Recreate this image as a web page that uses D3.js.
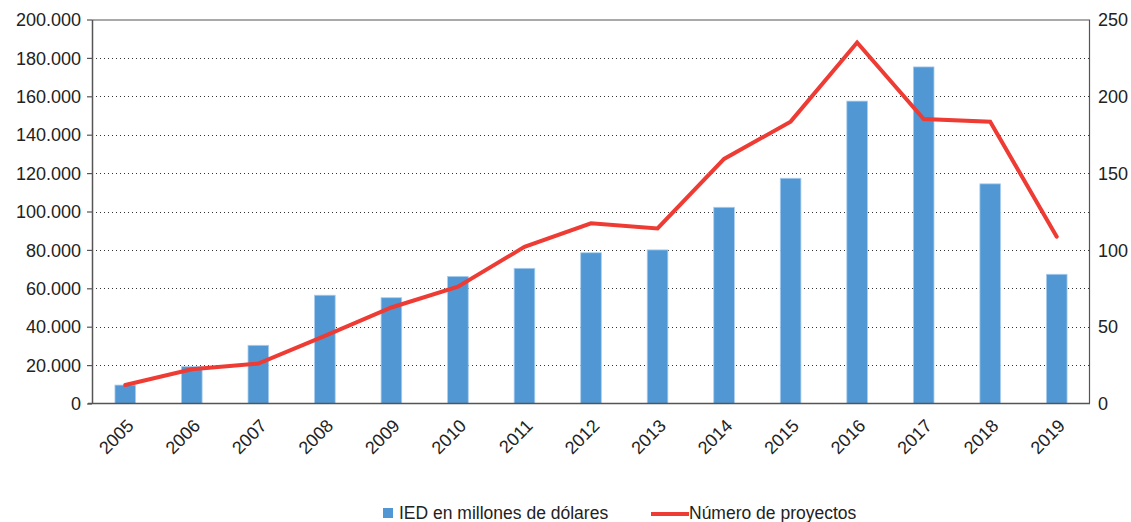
<!DOCTYPE html>
<html>
<head>
<meta charset="utf-8">
<script src="https://cdn.jsdelivr.net/npm/d3@7"></script>
<style>
  html, body { margin: 0; padding: 0; background: #fff; }
  svg { display: block; font-family: "Liberation Sans", Arial, sans-serif; }
</style>
</head>
<body>
<svg id="chart" width="1131" height="522"></svg>
<script>
// Inversión extranjera directa anunciada y número de proyectos, 2005-2019
const years = ["2005","2006","2007","2008","2009","2010","2011","2012","2013","2014","2015","2016","2017","2018","2019"];
const iedMillones = [9600, 19200, 30300, 56400, 55100, 66200, 70400, 78500, 80000, 102200, 117300, 157500, 175300, 114400, 67300];
const proyectos = [12, 22.3, 26, 44, 62.5, 76, 102, 117.3, 114, 159.2, 183.5, 235, 185.2, 183.5, 108.6];
const leftTicks = [0, 20000, 40000, 60000, 80000, 100000, 120000, 140000, 160000, 180000, 200000];
const rightTicks = [0, 50, 100, 150, 200, 250];
const legendLabels = ["IED en millones de dólares", "Número de proyectos"];

const svg = d3.select("#chart");
const m = { left: 92, right: 1090, top: 19.5, bottom: 403.5 };

const x = d3.scaleBand().domain(years).range([m.left, m.right]).paddingInner(0.69).paddingOuter(0.345);
const yL = d3.scaleLinear().domain([0, 200000]).range([m.bottom, m.top]);
const yR = d3.scaleLinear().domain([0, 250]).range([m.bottom, m.top]);

const fmt = v => v === 0 ? "0" : d3.format(",")(v).replace(/,/g, ".");

// dotted horizontal gridlines
svg.append("g").selectAll("line").data(leftTicks.filter(t => t > 0 && t < 200000)).join("line")
  .attr("x1", m.left).attr("x2", m.right)
  .attr("y1", d => Math.round(yL(d)) + 0.5).attr("y2", d => Math.round(yL(d)) + 0.5)
  .attr("stroke", "#333").attr("stroke-width", 1).attr("stroke-dasharray", "1,3");

// frame: top and right edges
svg.append("path")
  .attr("d", `M${m.left},${m.top + 0.5}H${m.right - 0.5}V${m.bottom}`)
  .attr("fill", "none").attr("stroke", "#555").attr("stroke-width", 1.2);

// bars
svg.append("g").selectAll("rect").data(years).join("rect")
  .attr("x", d => x(d))
  .attr("width", x.bandwidth())
  .attr("y", (d, i) => yL(iedMillones[i]))
  .attr("height", (d, i) => m.bottom - yL(iedMillones[i]))
  .attr("fill", "#5097d3")
  .attr("stroke", "#a9cdee").attr("stroke-width", 0.8);

// left axis
const axL = d3.axisLeft(yL).tickValues(leftTicks).tickFormat(fmt).tickSize(5).tickSizeOuter(0);
const gL = svg.append("g").attr("transform", `translate(${m.left},0)`).call(axL);
gL.select(".domain").attr("stroke", "#555").attr("stroke-width", 1.5);
gL.selectAll(".tick line").attr("stroke", "#555").attr("stroke-width", 1.2);
gL.selectAll("text").attr("font-size", 18).attr("fill", "#222").attr("x", -11).attr("dy", "0.34em");

// right axis
const axR = d3.axisRight(yR).tickValues(rightTicks).tickSize(0).tickSizeOuter(0);
const gR = svg.append("g").attr("transform", `translate(${m.right},0)`).call(axR);
gR.select(".domain").remove();
gR.selectAll("text").attr("font-size", 18).attr("fill", "#222").attr("x", 8).attr("dy", "0.34em");

// bottom axis
const axB = d3.axisBottom(x).tickSize(0).tickSizeOuter(0);
const gB = svg.append("g").attr("transform", `translate(0,${m.bottom})`).call(axB);
gB.select(".domain").attr("stroke", "#555").attr("stroke-width", 1.5).attr("d", `M${m.left - 4},0H${m.right}`);
gB.selectAll("text")
  .attr("font-size", 18).attr("fill", "#222")
  .attr("text-anchor", "end")
  .attr("transform", "translate(5,19) rotate(-45)")
  .attr("x", 0).attr("y", 0).attr("dy", "0.35em");

// line: número de proyectos
const line = d3.line()
  .x((d, i) => x(years[i]) + x.bandwidth() / 2)
  .y(d => yR(d));
svg.append("path").datum(proyectos)
  .attr("d", line)
  .attr("fill", "none").attr("stroke", "#ee3b33").attr("stroke-width", 4)
  .attr("stroke-linejoin", "miter").attr("stroke-linecap", "round");

// legend
const lg = svg.append("g").attr("font-size", 17.5).attr("fill", "#222");
lg.append("rect").attr("x", 383).attr("y", 508).attr("width", 10).attr("height", 10).attr("fill", "#5097d3");
lg.append("text").attr("x", 399).attr("y", 513).attr("dy", "0.35em").text(legendLabels[0]);
lg.append("line").attr("x1", 651).attr("x2", 689).attr("y1", 514).attr("y2", 514)
  .attr("stroke", "#ee3b33").attr("stroke-width", 4);
lg.append("text").attr("x", 689).attr("y", 513).attr("dy", "0.35em").text(legendLabels[1]);
</script>
</body>
</html>
